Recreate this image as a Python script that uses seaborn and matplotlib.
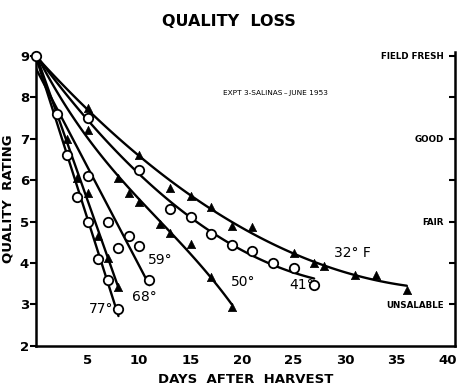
import numpy as np
import pandas as pd
import matplotlib
matplotlib.use('Agg')
import matplotlib.pyplot as plt
import seaborn as sns

# Quality rating vs days after harvest, Expt 3, Salinas, June 1953
# every storage series starts at field fresh (day 0, rating 9)
days_32 = [0, 5, 10, 13, 15, 17, 19, 21, 25, 27, 28, 31, 33, 36]
rating_32 = [9.0, 7.75, 6.6, 5.82, 5.62, 5.34, 4.9, 4.88, 4.25, 4.0, 3.92, 3.72, 3.7, 3.34]

days_41 = [0, 5, 10, 13, 15, 17, 19, 21, 23, 25, 27]
rating_41 = [9.0, 7.5, 6.25, 5.3, 5.1, 4.7, 4.43, 4.28, 4.0, 3.89, 3.48]

days_50 = [0, 5, 8, 9, 10, 12, 13, 15, 17, 19]
rating_50 = [9.0, 7.22, 6.05, 5.7, 5.48, 4.93, 4.73, 4.45, 3.65, 2.93]

days_59 = [0, 5, 7, 8, 9, 10, 11]
rating_59 = [9.0, 6.1, 5.0, 4.35, 4.64, 4.4, 3.58]

days_68 = [0, 2, 3, 4, 5, 6, 7, 8]
rating_68 = [9.0, 7.65, 7.0, 6.05, 5.7, 4.64, 4.13, 3.43]

days_77 = [0, 2, 3, 4, 5, 6, 7, 8]
rating_77 = [9.0, 7.6, 6.6, 5.6, 5.0, 4.1, 3.6, 2.88]

series_names = ['32', '41', '50', '59', '68', '77']
series_marker = {'32': '^', '41': 'o', '50': '^', '59': 'o', '68': '^', '77': 'o'}
series_order = {'32': 2, '41': 2, '50': 3, '59': 1, '68': 1, '77': 1}
series_label = {'32': '32° F', '41': '41°', '50': '50°', '59': '59°', '68': '68°', '77': '77°'}
label_pos = {'32': (28.9, 4.25), '41': (24.6, 3.48), '50': (18.9, 3.53),
             '59': (10.9, 4.08), '68': (9.3, 3.19), '77': (5.1, 2.9)}

x_ticks = [5, 10, 15, 20, 25, 30, 35, 40]
y_ticks = [2, 3, 4, 5, 6, 7, 8, 9]
grade_ticks = [3, 4, 5, 6, 7, 8, 9]
grade_labels = ['UNSALABLE', '', 'FAIR', '', 'GOOD', '', 'FIELD FRESH']

frames = []
for name, d, r in [('32', days_32, rating_32), ('41', days_41, rating_41),
                   ('50', days_50, rating_50), ('59', days_59, rating_59),
                   ('68', days_68, rating_68), ('77', days_77, rating_77)]:
    frames.append(pd.DataFrame({'temp': name, 'day': d, 'rating': r}))
df = pd.concat(frames, ignore_index=True)

sns.set_theme(style='white')
plt.rcParams['font.family'] = ['DejaVu Sans']
plt.rcParams.update({'text.color': 'black', 'axes.labelcolor': 'black',
                     'xtick.color': 'black', 'ytick.color': 'black',
                     'axes.edgecolor': 'black'})

fig = plt.figure(figsize=(4.57, 3.89), dpi=100)
ax = fig.add_axes([0.079, 0.111, 0.917, 0.756])

for name in series_names:
    sub = df[df.temp == name]
    sns.regplot(data=sub, x='day', y='rating', order=series_order[name], ci=None,
                scatter=False, truncate=True, ax=ax,
                line_kws={'color': 'black', 'lw': 1.7})
    pts = sub[sub.day > 0]
    if series_marker[name] == '^':
        sns.scatterplot(data=pts, x='day', y='rating', marker='^', s=36,
                        color='black', edgecolor='black', ax=ax, zorder=3)
    else:
        sns.scatterplot(data=pts, x='day', y='rating', marker='o', s=46,
                        facecolor='white', edgecolor='black', linewidth=1.3,
                        ax=ax, zorder=3)
    lx, ly = label_pos[name]
    ax.text(lx, ly, series_label[name], fontsize=10, ha='left', va='center')

start = df[df.day == 0].iloc[:1]
sns.scatterplot(data=start, x='day', y='rating', marker='o', s=46,
                facecolor='white', edgecolor='black', linewidth=1.3, ax=ax,
                zorder=4, clip_on=False)

ax.set_xlim(0, 40.7)
ax.set_ylim(2, 9.1)
ax.set_xticks(x_ticks)
ax.set_yticks(y_ticks)
ax.set_xticklabels([str(t) for t in x_ticks], fontsize=9.5, fontweight='bold')
ax.set_yticklabels([str(t) for t in y_ticks], fontsize=9.5, fontweight='bold')
ax.tick_params(axis='x', direction='in', length=4, width=1.5, pad=6)
ax.tick_params(axis='y', direction='out', length=4, width=1.5, pad=1)
ax.set_xlabel('DAYS  AFTER  HARVEST', fontsize=9.5, fontweight='bold', labelpad=4)
ax.set_ylabel('QUALITY  RATING', fontsize=9.5, fontweight='bold', labelpad=4)

for side in ['left', 'bottom', 'right']:
    ax.spines[side].set_linewidth(1.8)
    ax.spines[side].set_color('black')
ax.spines['top'].set_visible(False)

ax2 = ax.twinx()
ax2.set_ylim(ax.get_ylim())
ax2.set_yticks(grade_ticks)
ax2.set_yticklabels(grade_labels, fontsize=6.3, fontweight='bold')
ax2.tick_params(axis='y', direction='in', length=4, width=1.5, pad=-8)
for lab in ax2.get_yticklabels():
    lab.set_horizontalalignment('right')
for side in ['left', 'bottom', 'top', 'right']:
    ax2.spines[side].set_visible(False)

ax.text(0.446, 0.86, 'EXPT 3-SALINAS\u2009\u2013\u2009JUNE 1953', transform=ax.transAxes,
        fontsize=5.3, ha='left', va='center')
fig.text(0.501, 0.944, 'QUALITY  LOSS', fontsize=11.5, fontweight='bold',
         ha='center', va='center')

fig.savefig('out.png', dpi=100, facecolor='white')
